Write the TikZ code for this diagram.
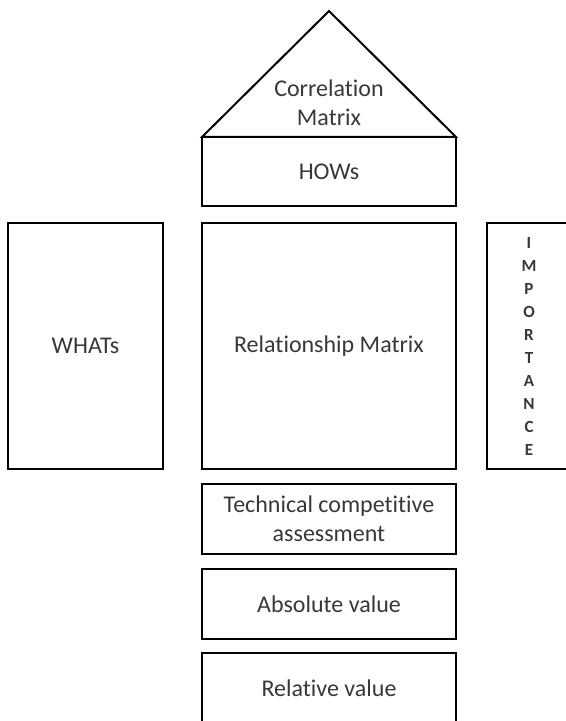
\documentclass[tikz,border=0pt]{standalone}
\usepackage{fontspec}
\setmainfont{Carlito}[Ligatures=NoCommon]
\usetikzlibrary{positioning}

\begin{document}
\begin{tikzpicture}[x=0.5pt, y=-0.5pt, node distance=7.5pt,
	blok/.style={draw, line width=1pt, inner sep=0pt, outer sep=0pt, minimum width=127pt, minimum height=35pt,
		align=center, text=black!78, font=\fontsize{12}{14.5}\selectfont}]
\useasboundingbox (0,0) rectangle (566,721);

% roof with the correlation matrix
\coordinate (roofL) at (202,137);
\coordinate (roofT) at (329,11);
\coordinate (roofR) at (456,137);
\draw[line width=1pt, line join=miter] (roofL) -- (roofT) -- (roofR) -- cycle;
\node[align=center, text=black!78, font=\fontsize{12}{14.5}\selectfont] (corr) at (329,103) {Correlation\\Matrix};

\node[blok, minimum height=34.5pt, anchor=north west] (hows) at (roofL) {HOWs};
\node[blok, minimum height=123pt, below=8.5pt of hows] (rel) {Relationship Matrix};
\node[blok, minimum width=77.5pt, minimum height=123pt, left=19.5pt of rel] (whats) {WHATs};
\node[blok, minimum width=42pt, minimum height=123pt, right=15.5pt of rel,
	font=\bfseries\fontsize{8.5}{11.5}\selectfont] (imp) {I\\M\\P\\O\\R\\T\\A\\N\\C\\E};

\node[blok, below=of rel] (tech) {Technical competitive\\assessment};
\node[blok, below=of tech] (absv) {Absolute value};
\node[blok, below=7pt of absv] (relv) {Relative value};
\end{tikzpicture}
\end{document}
